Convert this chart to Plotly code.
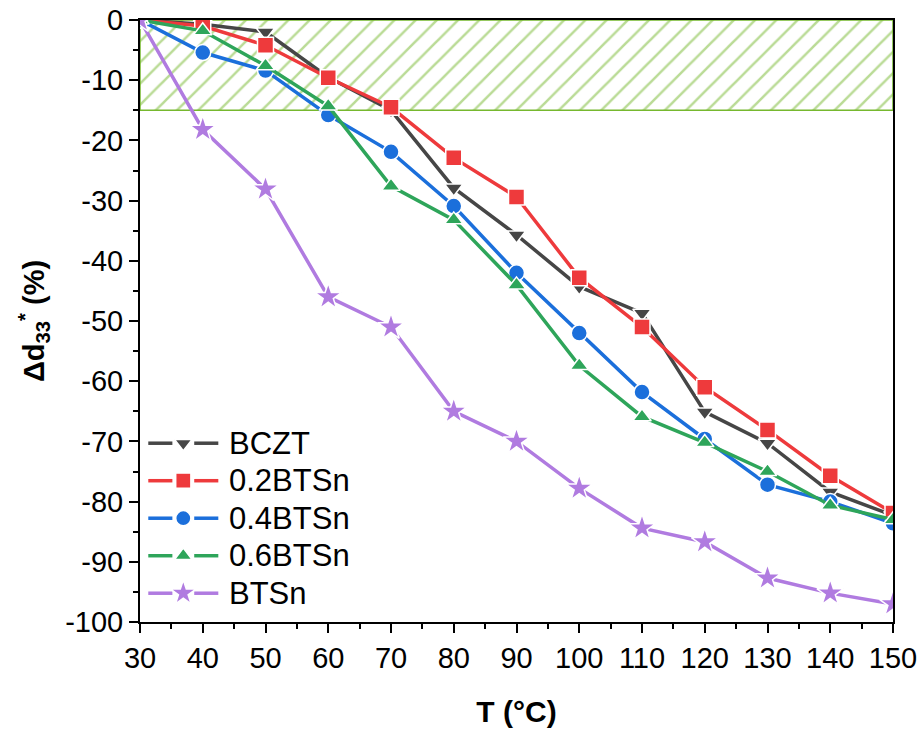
import plotly.graph_objects as go

# Temperature points (°C)
temps = [30, 40, 50, 60, 70, 80, 90, 100, 110, 120, 130, 140, 150]

# Relative change of d33* (%) for each composition
bczt = [0, -0.7, -2.0, -9.5, -15.0, -27.9, -35.7, -44.3, -48.7, -65.1, -70.3, -78.4, -82.3]
bts02 = [0, -1.0, -4.2, -9.6, -14.5, -22.9, -29.4, -42.8, -51.0, -61.0, -68.1, -75.7, -81.9]
bts04 = [0, -5.4, -8.4, -15.8, -21.9, -30.9, -42.0, -52.0, -61.8, -69.6, -77.2, -80.0, -83.6]
bts06 = [0, -1.8, -7.6, -14.3, -27.6, -33.2, -44.0, -57.4, -65.9, -70.2, -75.0, -80.6, -83.0]
btsn = [0, -18.2, -28.1, -46.0, -51.0, -65.0, -70.0, -77.8, -84.4, -86.7, -92.7, -95.2, -97.0]

names = ["BCZT", "0.2BTSn", "0.4BTSn", "0.6BTSn", "BTSn"]
series = [bczt, bts02, bts04, bts06, btsn]
colors = ["#464646", "#EE3A3C", "#1B6FDB", "#2EA55A", "#B07BE0"]
symbols = ["triangle-down", "square", "circle", "triangle-up", "star"]

# Axis tick labels (plain hyphen for negatives)
x_ticks = [30, 40, 50, 60, 70, 80, 90, 100, 110, 120, 130, 140, 150]
y_ticks = [0, -10, -20, -30, -40, -50, -60, -70, -80, -90, -100]
y_tick_text = ["0", "-10", "-20", "-30", "-40", "-50", "-60", "-70", "-80", "-90", "-100"]

# Tolerance band: 0 to -15 %
band_x = [30, 150, 150, 30, 30]
band_y = [0, 0, -15, -15, 0]
band_color = "#76B82E"

FONT = "Liberation Sans, Arial, sans-serif"

fig = go.Figure()

fig.add_trace(go.Scatter(
    x=band_x, y=band_y, mode="lines", fill="toself",
    line=dict(color=band_color, width=1.5),
    fillcolor="rgba(0,0,0,0)",
    fillpattern=dict(shape="/", fgcolor=band_color, bgcolor="rgba(255,255,255,0)",
                     size=15, solidity=0.17),
    showlegend=False, hoverinfo="skip",
))


def marker_style(sym, col, scale=1.0):
    return dict(symbol=sym, size=(16 if sym != "star" else 20) * scale, color=col,
                line=dict(color="white", width=1.5))


for name, ys, c, s in zip(names, series, colors, symbols):
    fig.add_trace(go.Scatter(
        x=temps, y=ys, name=name, mode="lines+markers",
        line=dict(color=c, width=3.5), marker=marker_style(s, c),
        showlegend=False,
    ))

# Legend key drawn on an overlay axis spanning the plot area (0..1 in both directions)
key_x0, key_gap_l, key_gap_r, key_x1, key_mid = 0.011, 0.043, 0.072, 0.104, 0.0575
key_text_x = 0.116
key_top, key_step = 0.297, 0.0623
annotations = []
for i, (name, c, s) in enumerate(zip(names, colors, symbols)):
    ky = key_top - i * key_step
    fig.add_trace(go.Scatter(
        x=[key_x0, key_gap_l, None, key_gap_r, key_x1], y=[ky, ky, None, ky, ky],
        xaxis="x2", yaxis="y2", mode="lines", line=dict(color=c, width=3.5),
        showlegend=False, hoverinfo="skip",
    ))
    fig.add_trace(go.Scatter(
        x=[key_mid], y=[ky], xaxis="x2", yaxis="y2", mode="markers",
        marker=marker_style(s, c, 0.95), showlegend=False, hoverinfo="skip",
    ))
    annotations.append(dict(
        x=key_text_x, y=ky, xref="x2", yref="y2", text=name, showarrow=False,
        xanchor="left", yanchor="middle", font=dict(family=FONT, size=31, color="black"),
    ))

fig.update_layout(
    width=923, height=736,
    margin=dict(l=140, r=30, t=20, b=114),
    plot_bgcolor="white", paper_bgcolor="white",
    font=dict(family=FONT, size=29, color="black"),
    showlegend=False,
    annotations=annotations,
    xaxis=dict(
        range=[30, 150], tickmode="array", tickvals=x_ticks, automargin=False,
        ticks="outside", ticklen=9, tickwidth=2, tickcolor="black",
        minor=dict(ticks="outside", ticklen=5, tickwidth=2, dtick=5, tick0=30, tickcolor="black"),
        showline=True, linecolor="black", linewidth=2, mirror=True,
        showgrid=False, zeroline=False,
        title=dict(text="<b>T (°C)</b>", font=dict(size=30), standoff=28),
    ),
    yaxis=dict(
        range=[-100, 0], tickmode="array", tickvals=y_ticks, ticktext=y_tick_text,
        automargin=False,
        ticks="outside", ticklen=9, tickwidth=2, tickcolor="black",
        minor=dict(ticks="outside", ticklen=5, tickwidth=2, dtick=5, tickcolor="black"),
        showline=True, linecolor="black", linewidth=2, mirror=True,
        showgrid=False, zeroline=False,
        title=dict(text="<b>Δd<sub>33</sub><sup>*</sup> (%)</b>", font=dict(size=29), standoff=12),
    ),
    xaxis2=dict(overlaying="x", range=[0, 1], visible=False, fixedrange=True),
    yaxis2=dict(overlaying="y", range=[0, 1], visible=False, fixedrange=True),
)

fig.write_html("out.html")
